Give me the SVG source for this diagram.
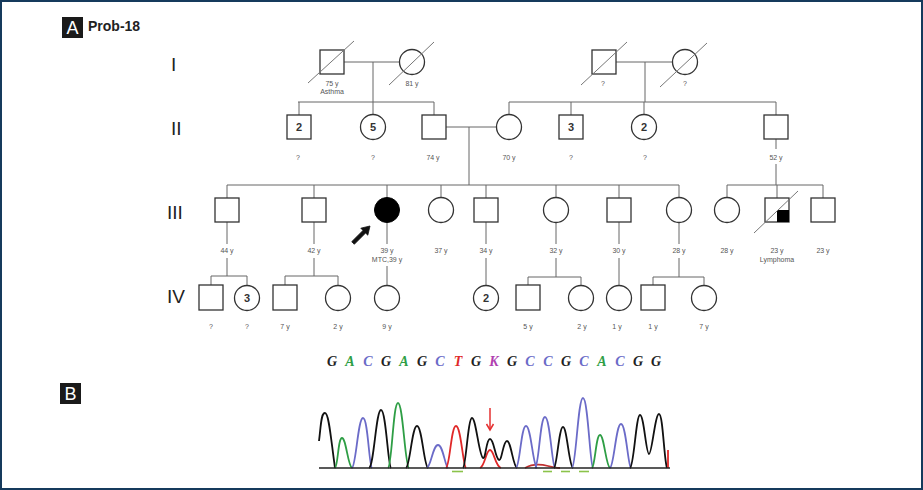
<svg xmlns="http://www.w3.org/2000/svg" width="923" height="490" viewBox="0 0 923 490">
<defs>
<style>
.nd{fill:#fff;stroke:#333;stroke-width:1.3}
.ln{fill:none;stroke:#666;stroke-width:1}
.sl{fill:none;stroke:#777;stroke-width:1}
.lb{font-family:"Liberation Sans",Arial,sans-serif;font-size:7px;fill:#555;text-anchor:middle}
.num{font-family:"Liberation Sans",Arial,sans-serif;font-size:11px;font-weight:bold;fill:#333;text-anchor:middle}
.gen{font-family:"Liberation Sans",Arial,sans-serif;font-size:19px;fill:#222}
.sq{font-family:"Liberation Serif","Times New Roman",serif;font-size:14px;font-style:italic;font-weight:bold;text-anchor:middle}
.pk{fill:none;stroke-width:1.8;stroke-linejoin:round}
</style>
</defs>
<rect x="0" y="0" width="923" height="490" fill="#fff"/>
<rect x="1" y="1" width="921" height="488" fill="none" stroke="#153a5c" stroke-width="2"/>

<!-- panel labels -->
<g id="labelA">
<rect x="62" y="17" width="21" height="21" fill="#1a1a1a"/>
<text x="72.5" y="34" font-family="Liberation Sans,Arial,sans-serif" font-size="18" fill="#fff" text-anchor="middle">A</text>
<text x="88" y="31" font-family="Liberation Sans,Arial,sans-serif" font-size="14" font-weight="bold" fill="#222">Prob-18</text>
</g>
<g id="labelB">
<rect x="60" y="383" width="21" height="21" fill="#1a1a1a"/>
<text x="70.5" y="400" font-family="Liberation Sans,Arial,sans-serif" font-size="18" fill="#fff" text-anchor="middle">B</text>
</g>

<!-- generation labels -->
<g id="generations">
<text class="gen" x="171" y="71">I</text>
<text class="gen" x="171" y="135">II</text>
<text class="gen" x="167" y="219">III</text>
<text class="gen" x="167" y="303">IV</text>
</g>

<!-- connectors -->
<g id="connectors">
<path class="ln" d="M344,62 H399.5 M373,62 V114.5 M298,102 H434 M299,102 V115 M434,102 V115"/>
<path class="ln" d="M616,62 H672.5 M645,62 V102 M509,102 H776 M509,102 V114.5 M571,102 V115 M644,102 V114.5 M776,102 V115"/>
<path class="ln" d="M446,127 H496.5 M469,127 V185"/>
<path class="ln" d="M227,185 H679 M227,185 V198 M314,185 V198 M387,185 V197.5 M441,185 V197.5 M486,185 V198 M556,185 V197.5 M619,185 V198 M679,185 V197.5"/>
<path class="ln" d="M776,139 V149 M776,164 V185 M727,185 H823 M727,185 V197.5 M777,185 V198 M823,185 V198"/>
<path class="ln" d="M227,222 V244 M227,258 V276 M211,276 H247 M211,276 V285 M247,276 V285.5"/>
<path class="ln" d="M314,222 V244 M314,258 V276 M285,276 H338 M285,276 V285 M338,276 V285.5"/>
<path class="ln" d="M387,222.5 V244 M387,266 V285.5"/>
<path class="ln" d="M486,222 V244 M486,258 V285.5"/>
<path class="ln" d="M556,222.5 V244 M556,258 V277 M528,277 H581 M528,277 V285 M581,277 V285.5"/>
<path class="ln" d="M619,222 V244 M619,258 V285.5"/>
<path class="ln" d="M679,222.5 V244 M679,258 V277 M653,277 H704 M653,277 V285 M704,277 V285.5"/>
</g>

<!-- Generation I -->
<g id="I-1"><rect class="nd" x="320" y="50" width="24" height="24"/><line class="sl" x1="308" y1="83" x2="354" y2="41"/><text class="lb" x="332" y="86">75 y</text><text class="lb" x="332" y="94">Asthma</text></g>
<g id="I-2"><circle class="nd" cx="412" cy="62" r="12.5"/><line class="sl" x1="389" y1="85" x2="434" y2="42"/><text class="lb" x="412" y="86">81 y</text></g>
<g id="I-3"><rect class="nd" x="592" y="50" width="24" height="24"/><line class="sl" x1="581" y1="85" x2="627" y2="42"/><text class="lb" x="603" y="86">?</text></g>
<g id="I-4"><circle class="nd" cx="685" cy="62" r="12.5"/><line class="sl" x1="660" y1="87" x2="707" y2="43"/><text class="lb" x="685" y="86">?</text></g>

<!-- Generation II -->
<g id="II-1"><rect class="nd" x="287" y="115" width="24" height="24"/><text class="num" x="299" y="131">2</text><text class="lb" x="298" y="160">?</text></g>
<g id="II-2"><circle class="nd" cx="373" cy="127" r="12.5"/><text class="num" x="373" y="131">5</text><text class="lb" x="373" y="160">?</text></g>
<g id="II-3"><rect class="nd" x="422" y="115" width="24" height="24"/><text class="lb" x="433" y="160">74 y</text></g>
<g id="II-4"><circle class="nd" cx="509" cy="127" r="12.5"/><text class="lb" x="509" y="160">70 y</text></g>
<g id="II-5"><rect class="nd" x="559" y="115" width="24" height="24"/><text class="num" x="571" y="131">3</text><text class="lb" x="571" y="160">?</text></g>
<g id="II-6"><circle class="nd" cx="644" cy="127" r="12.5"/><text class="num" x="644" y="131">2</text><text class="lb" x="645" y="160">?</text></g>
<g id="II-7"><rect class="nd" x="764" y="115" width="24" height="24"/><text class="lb" x="776" y="160">52 y</text></g>

<!-- Generation III -->
<g id="III-1"><rect class="nd" x="215" y="198" width="24" height="24"/><text class="lb" x="227" y="253">44 y</text></g>
<g id="III-2"><rect class="nd" x="302" y="198" width="24" height="24"/><text class="lb" x="314" y="253">42 y</text></g>
<g id="III-3"><circle cx="387" cy="210" r="12.5" fill="#000" stroke="#000" stroke-width="1"/><polygon points="370,226 367.8,235.2 365.6,233 354.3,244.3 351.7,241.7 363,230.4 360.8,228.2" fill="#111" stroke="#111" stroke-width="0.8" stroke-linejoin="round"/><text class="lb" x="387" y="253">39 y</text><text class="lb" x="387" y="262">MTC,39 y</text></g>
<g id="III-4"><circle class="nd" cx="441" cy="210" r="12.5"/><text class="lb" x="441" y="253">37 y</text></g>
<g id="III-5"><rect class="nd" x="474" y="198" width="24" height="24"/><text class="lb" x="486" y="253">34 y</text></g>
<g id="III-6"><circle class="nd" cx="556" cy="210" r="12.5"/><text class="lb" x="556" y="253">32 y</text></g>
<g id="III-7"><rect class="nd" x="607" y="198" width="24" height="24"/><text class="lb" x="619" y="253">30 y</text></g>
<g id="III-8"><circle class="nd" cx="679" cy="210" r="12.5"/><text class="lb" x="679" y="253">28 y</text></g>
<g id="III-9"><circle class="nd" cx="727" cy="210" r="12.5"/><text class="lb" x="727" y="253">28 y</text></g>
<g id="III-10"><rect class="nd" x="765" y="198" width="24" height="24"/><rect x="777" y="210" width="12" height="12" fill="#000"/><line class="sl" x1="754" y1="233" x2="798" y2="191"/><text class="lb" x="777" y="253">23 y</text><text class="lb" x="777" y="262">Lymphoma</text></g>
<g id="III-11"><rect class="nd" x="811" y="198" width="24" height="24"/><text class="lb" x="823" y="253">23 y</text></g>

<!-- Generation IV -->
<g id="IV-1"><rect class="nd" x="199" y="285" width="24" height="25"/><text class="lb" x="211" y="329">?</text></g>
<g id="IV-2"><circle class="nd" cx="247" cy="298" r="12.5"/><text class="num" x="247" y="302">3</text><text class="lb" x="247" y="329">?</text></g>
<g id="IV-3"><rect class="nd" x="273" y="285" width="24" height="25"/><text class="lb" x="285" y="329">7 y</text></g>
<g id="IV-4"><circle class="nd" cx="338" cy="298" r="12.5"/><text class="lb" x="338" y="329">2 y</text></g>
<g id="IV-5"><circle class="nd" cx="387" cy="298" r="12.5"/><text class="lb" x="387" y="329">9 y</text></g>
<g id="IV-6"><circle class="nd" cx="486" cy="298" r="12.5"/><text class="num" x="486" y="302">2</text></g>
<g id="IV-7"><rect class="nd" x="516" y="285" width="24" height="25"/><text class="lb" x="528" y="329">5 y</text></g>
<g id="IV-8"><circle class="nd" cx="581" cy="298" r="12.5"/><text class="lb" x="582" y="329">2 y</text></g>
<g id="IV-9"><circle class="nd" cx="619" cy="298" r="12.5"/><text class="lb" x="617" y="329">1 y</text></g>
<g id="IV-10"><rect class="nd" x="641" y="285" width="24" height="25"/><text class="lb" x="653" y="329">1 y</text></g>
<g id="IV-11"><circle class="nd" cx="704" cy="298" r="12.5"/><text class="lb" x="704" y="329">7 y</text></g>

<!-- sequence -->
<g id="sequence">
<text class="sq" x="332" y="366" fill="#222">G</text>
<text class="sq" x="350" y="366" fill="#2e9e45">A</text>
<text class="sq" x="368" y="366" fill="#6b6bc8">C</text>
<text class="sq" x="386" y="366" fill="#222">G</text>
<text class="sq" x="404" y="366" fill="#2e9e45">A</text>
<text class="sq" x="422" y="366" fill="#222">G</text>
<text class="sq" x="440" y="366" fill="#6b6bc8">C</text>
<text class="sq" x="458" y="366" fill="#e02828">T</text>
<text class="sq" x="476" y="366" fill="#222">G</text>
<text class="sq" x="494" y="366" fill="#b040b0">K</text>
<text class="sq" x="512" y="366" fill="#222">G</text>
<text class="sq" x="530" y="366" fill="#6b6bc8">C</text>
<text class="sq" x="548" y="366" fill="#6b6bc8">C</text>
<text class="sq" x="566" y="366" fill="#222">G</text>
<text class="sq" x="584" y="366" fill="#6b6bc8">C</text>
<text class="sq" x="602" y="366" fill="#2e9e45">A</text>
<text class="sq" x="620" y="366" fill="#6b6bc8">C</text>
<text class="sq" x="638" y="366" fill="#222">G</text>
<text class="sq" x="656" y="366" fill="#222">G</text>
</g>

<!-- chromatogram -->
<g id="chromatogram">
<path class="pk" stroke="#c03030" d="M525,468 C532,464 540,464 548,466 C552,467 556,468 560,468"/>
<path class="pk" stroke="#e02828" d="M480,468 C485,466 486,450 490,450 C494,450 495,466 501,468"/>
<path class="pk" stroke="#111" d="M319,441 C321,425 321,413 325,413 C329,413 331,440 335,468"/>
<path class="pk" stroke="#2e9e45" d="M335,468 C338,466 338,438 342,438 C346,438 348,466 352,468"/>
<path class="pk" stroke="#6b6bc8" d="M352,468 C356,466 358,418 363,418 C368,418 369,466 372,468"/>
<path class="pk" stroke="#111" d="M369,468 C374,466 376,410 381,410 C386,410 388,466 391,468"/>
<path class="pk" stroke="#2e9e45" d="M388,468 C392,466 393,403 398,403 C403,403 405,466 409,468"/>
<path class="pk" stroke="#111" d="M406,468 C410,466 412,426 417,426 C422,426 424,466 428,468"/>
<path class="pk" stroke="#6b6bc8" d="M427,468 C431,466 433,445 438,445 C443,445 445,466 448,468"/>
<path class="pk" stroke="#e02828" d="M446,468 C450,466 451,426 456,426 C461,426 463,466 466,468"/>
<path class="pk" stroke="#111" d="M463,468 C466,466 468,418 472,418 C476,418 479,456 483,458 C486,459 486,439 490,439 C494,439 495,458 499,460 C502,461 503,441 507,441 C511,441 513,466 517,468"/>
<path class="pk" stroke="#6b6bc8" d="M516,468 C520,466 521,426 526,426 C531,426 533,466 537,468"/>
<path class="pk" stroke="#6b6bc8" d="M535,468 C539,466 540,417 545,417 C550,417 552,466 555,468"/>
<path class="pk" stroke="#111" d="M554,468 C557,466 559,427 563,427 C567,427 569,466 573,468"/>
<path class="pk" stroke="#6b6bc8" d="M572,468 C576,466 578,398 583,398 C588,398 590,466 593,468"/>
<path class="pk" stroke="#2e9e45" d="M592,468 C595,466 596,435 600,435 C604,435 606,466 610,468"/>
<path class="pk" stroke="#6b6bc8" d="M610,468 C614,466 616,424 621,424 C626,424 628,466 631,468"/>
<path class="pk" stroke="#111" d="M630,468 C634,466 636,415 640,415 C644,415 646,454 649,454 C652,454 655,414 659,414 C663,414 664,460 667,468"/>
<path class="pk" stroke="#e02828" d="M668,468 L668,450"/>
<line x1="319" y1="468" x2="670" y2="468" stroke="#222" stroke-width="1.6"/>
<g stroke="#8bc34a" stroke-width="1.6">
<line x1="452" y1="471.5" x2="463" y2="471.5"/>
<line x1="543" y1="471.5" x2="552" y2="471.5"/>
<line x1="561" y1="471.5" x2="570" y2="471.5"/>
<line x1="579" y1="471.5" x2="589" y2="471.5"/>
</g>
<g stroke="#e53030" stroke-width="1.5" fill="none">
<line x1="490" y1="408" x2="490" y2="429"/>
<polyline points="486.5,424 490,430 493.5,424"/>
</g>
</g>
</svg>
